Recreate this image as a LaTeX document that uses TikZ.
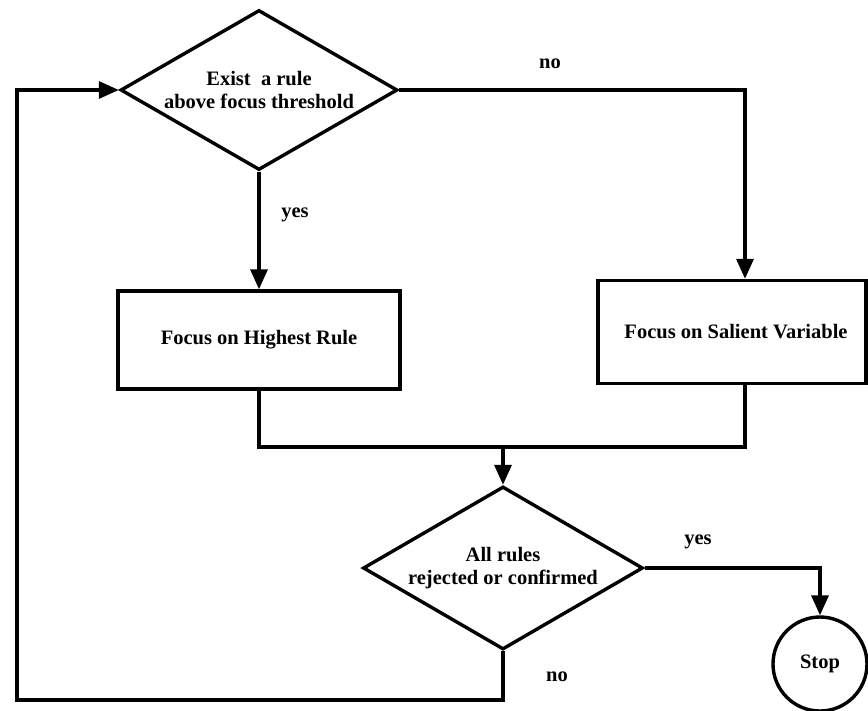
\documentclass[tikz,border=0pt]{standalone}
\usepackage{fontspec}
\setmainfont{Liberation Serif}
\usetikzlibrary{shapes.geometric,arrows.meta}

\begin{document}
\begin{tikzpicture}[x=1pt,y=-1pt,
  every node/.style={font=\fontsize{20.5}{23}\selectfont\bfseries, align=center, inner sep=0pt},
  line/.style={line width=3.4pt, line join=miter},
  arr/.style={line, -{Triangle[length=20pt,width=17pt]}},
  decision/.style={draw, line width=3.4pt, diamond, aspect=1.73, inner sep=0pt},
  process/.style={draw, line width=3.4pt, rectangle},
  terminal/.style={draw, line width=3.4pt, circle, minimum size=94pt},
  lbl/.style={font=\fontsize{20.5}{23}\selectfont\bfseries}
]
\useasboundingbox (0,0) rectangle (868,710);

% decisions, processes, terminal
\node[decision, minimum width=277pt, minimum height=160pt] (d1) at (259,90)
  {Exist\ \ a rule\\above focus threshold};
\node[process, minimum width=282pt, minimum height=98pt] (b1) at (259,340)
  {Focus on Highest Rule};
\node[process, minimum width=268pt, minimum height=103pt] (b2) at (732,332)
  {\hspace*{8pt}Focus on Salient Variable};
\node[decision, minimum width=280pt, minimum height=163pt] (d2) at (503,568)
  {All rules\\rejected or confirmed};
\node[terminal] (stop) at (820,664) {Stop};

% routing points
\coordinate (xr) at (745,0);
\coordinate (m) at (503,447);
\coordinate (lc) at (17,700);

% connectors
\draw[arr] (d1.south) -- (b1.north);
\draw[arr] (d1.east) -| (xr |- b2.north);
\draw[line] (b1.south) |- (m);
\draw[line] (m) -| (xr |- b2.south);
\draw[arr] (m) -- (d2.north);
\draw[arr] (d2.east) -| (stop.north);
\draw[arr] (d2.south) |- (lc) |- (d1.west);

% branch labels
\node[lbl] (l1) at (550,64) {no};
\node[lbl] (l2) at (295,215) {yes};
\node[lbl] (l3) at (698,542) {yes};
\node[lbl] (l4) at (557,677) {no};
\end{tikzpicture}
\end{document}
